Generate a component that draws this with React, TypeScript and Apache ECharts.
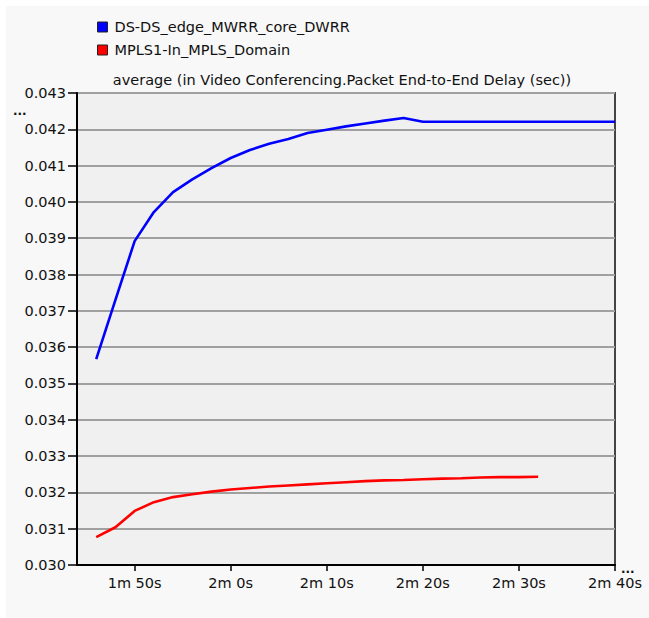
import React, { useEffect, useRef } from "react";
import * as echarts from "echarts";

const seriesNames = ["DS-DS_edge_MWRR_core_DWRR", "MPLS1-In_MPLS_Domain"];

const blueTimes = [106, 108, 110, 112, 114, 116, 118, 120, 122, 124, 126, 128, 130, 132, 134, 136, 138, 140, 142, 144, 146, 148, 150, 152, 154, 156, 158, 160];
const blueValues = [0.03567, 0.0373, 0.03892, 0.03972, 0.04027, 0.04062, 0.04093, 0.04121, 0.04143, 0.0416, 0.04173, 0.0419, 0.04199, 0.04208, 0.04216, 0.04224, 0.04231, 0.04221, 0.04221, 0.04221, 0.04221, 0.04221, 0.04221, 0.04221, 0.04221, 0.04221, 0.04221, 0.04221];

const redTimes = [106, 108, 110, 112, 114, 116, 118, 120, 122, 124, 126, 128, 130, 132, 134, 136, 138, 140, 142, 144, 146, 148, 150, 152];
const redValues = [0.03077, 0.03104, 0.03149, 0.03173, 0.03187, 0.03195, 0.03202, 0.03208, 0.03212, 0.03216, 0.03219, 0.03222, 0.03225, 0.03228, 0.03231, 0.03233, 0.03234, 0.03236, 0.03238, 0.03239, 0.03241, 0.03242, 0.03242, 0.03243];

const xTicks = [110, 120, 130, 140, 150, 160];
const yMin = 0.03;
const yMax = 0.043;
const yStep = 0.001;
const xMin = 104;
const xMax = 160;

const titleText = "average (in Video Conferencing.Packet End-to-End Delay (sec))";

function fmtTime(t: number): string {
  const m = Math.floor(t / 60);
  const s = Math.round(t - m * 60);
  return `${m}m ${s}s`;
}

export default function App() {
  const ref = useRef<HTMLDivElement>(null);
  useEffect(() => {
    if (!ref.current) return;
    const chart = echarts.init(ref.current, null, { renderer: "svg" });
    const font = "'DejaVu Sans', Verdana, sans-serif";
    const fs = 14.5;
    chart.setOption({
      animation: false,
      backgroundColor: "#f8f8f8",
      textStyle: { fontFamily: font },
      legend: {
        orient: "vertical",
        left: 91,
        top: 13,
        padding: 0,
        icon: "rect",
        itemWidth: 10,
        itemHeight: 10,
        itemGap: 7,
        itemStyle: { borderColor: "#222", borderWidth: 1 },
        textStyle: { fontSize: fs, color: "#111", fontFamily: font, lineHeight: 16, padding: [0, 0, 0, 2] },
        data: seriesNames,
      },
      graphic: [
        {
          type: "text",
          x: 336,
          y: 74,
          style: {
            text: titleText,
            fill: "#111",
            font: `${fs}px ${font}`,
            textAlign: "center",
            textVerticalAlign: "middle",
          },
        },
        {
          type: "text",
          x: 7,
          y: 105,
          style: {
            text: "...",
            fill: "#111",
            font: `bold 12px ${font}`,
            textVerticalAlign: "middle",
            lineHeight: 8,
          },
        },
        {
          type: "text",
          x: 615,
          y: 567,
          style: {
            text: "...",
            fill: "#111",
            font: `bold 12px ${font}`,
            textVerticalAlign: "bottom",
            lineHeight: 8,
          },
        },
      ],
      grid: {
        left: 71,
        top: 87,
        right: 34,
        bottom: 53,
        show: true,
        backgroundColor: "#f0f0f0",
        borderColor: "#444",
        borderWidth: 2,
      },
      xAxis: {
        type: "value",
        min: xMin,
        max: xMax,
        splitLine: { show: false },
        axisLine: { lineStyle: { color: "#000", width: 2 } },
        axisTick: { show: true, length: 6, customValues: xTicks, lineStyle: { color: "#000", width: 1.5 } },
        axisLabel: {
          customValues: xTicks,
          formatter: (v: number) => fmtTime(v),
          fontSize: fs,
          color: "#111",
          margin: 10,
          fontFamily: font,
        },
      },
      yAxis: {
        type: "value",
        min: yMin,
        max: yMax,
        interval: yStep,
        axisLine: { show: true, lineStyle: { color: "#000", width: 2 } },
        axisTick: { show: true, length: 9, lineStyle: { color: "#000", width: 1.5 } },
        splitLine: { show: true, lineStyle: { color: "#a0a0a0", width: 2 } },
        axisLabel: {
          formatter: (v: number) => v.toFixed(3),
          fontSize: fs,
          color: "#111",
          margin: 11,
          fontFamily: font,
        },
      },
      series: [
        {
          name: seriesNames[0],
          type: "line",
          data: blueTimes.map((t, i) => [t, blueValues[i]]),
          showSymbol: false,
          symbol: "none",
          color: "#0000ff",
          lineStyle: { color: "#0000ff", width: 2.6 },
        },
        {
          name: seriesNames[1],
          type: "line",
          data: redTimes.map((t, i) => [t, redValues[i]]),
          showSymbol: false,
          symbol: "none",
          color: "#ff0000",
          lineStyle: { color: "#ff0000", width: 2.6 },
        },
      ],
    });
    return () => chart.dispose();
  }, []);
  return (
    <div
      ref={ref}
      style={{ position: "absolute", left: 6, top: 6, width: 643, height: 612 }}
    />
  );
}
